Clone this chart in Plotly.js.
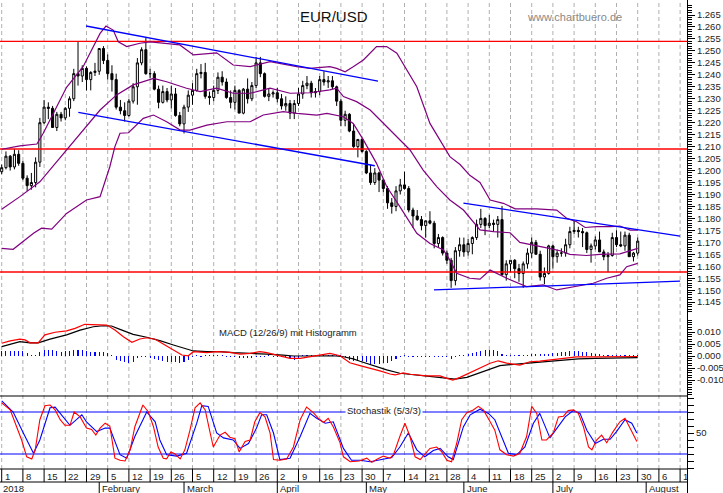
<!DOCTYPE html>
<html><head><meta charset="utf-8">
<script src="https://cdn.plot.ly/plotly-3.0.1.min.js"></script>
<style>html,body{margin:0;padding:0;background:#fff}#chart{width:723px;height:493px}</style>
</head><body><div id="chart"></div>
<script>
// ---------- DATA ----------
// trading days from Mon 1 Jan 2018 (index 0) to Mon 30 Jul 2018 (index 150)
const openP = [1.1995,1.2012,1.2060,1.2015,1.2068, 1.2030,1.1968,1.1937,1.1950,1.2035, 1.2200,1.2265,1.2260,1.2180,1.2235, 1.2220,1.2260,1.2300,1.2405,1.2395,
1.2427,1.2380,1.2410,1.2415,1.2510, 1.2460,1.2405,1.2380,1.2265,1.2250, 1.2230,1.2290,1.2350,1.2450,1.2505, 1.2405,1.2405,1.2340,1.2285,1.2330,
1.2295,1.2320,1.2230,1.2195,1.2265, 1.2315,1.2335,1.2405,1.2410,1.2310, 1.2305,1.2335,1.2390,1.2370,1.2305, 1.2285,1.2335,1.2240,1.2340,1.2300,
1.2355,1.2450,1.2405,1.2310,1.2320, 1.2325,1.2300,1.2270,1.2280,1.2240, 1.2280,1.2320,1.2355,1.2365,1.2325, 1.2330,1.2380,1.2370,1.2375,1.2350,
1.2290,1.2210,1.2235,1.2165,1.2100, 1.2130,1.2080,1.1990,1.1950,1.1990, 1.1960,1.1925,1.1865,1.1850,1.1915, 1.1940,1.1925,1.1835,1.1810,1.1795,
1.1770,1.1790,1.1780,1.1695,1.1720, 1.1655,1.1625,1.1540,1.1665,1.1690, 1.1660,1.1695,1.1720,1.1775,1.1800, 1.1770,1.1780,1.1775,1.1795,1.1565,
1.1610,1.1625,1.1590,1.1570,1.1610, 1.1655,1.1700,1.1650,1.1555,1.1570, 1.1685,1.1640,1.1655,1.1655,1.1690, 1.1745,1.1750,1.1745,1.1740,1.1670,
1.1685,1.1710,1.1660,1.1640,1.1645, 1.1720,1.1690,1.1685,1.1730,1.1640, 1.1655];
const highP = [1.2025,1.2080,1.2065,1.2090,1.2085, 1.2040,1.1980,1.1990,1.2055,1.2220, 1.2295,1.2285,1.2270,1.2245,1.2245, 1.2265,1.2310,1.2425,1.2537,1.2440,
1.2435,1.2415,1.2450,1.2510,1.2520, 1.2485,1.2440,1.2405,1.2295,1.2285, 1.2300,1.2365,1.2470,1.2515,1.2555, 1.2425,1.2415,1.2355,1.2355,1.2345,
1.2355,1.2345,1.2245,1.2275,1.2335, 1.2365,1.2425,1.2445,1.2450,1.2330, 1.2355,1.2410,1.2415,1.2385,1.2335, 1.2355,1.2340,1.2345,1.2385,1.2370,
1.2475,1.2475,1.2410,1.2345,1.2335, 1.2345,1.2320,1.2310,1.2295,1.2295, 1.2345,1.2375,1.2395,1.2375,1.2345, 1.2395,1.2415,1.2395,1.2395,1.2355,
1.2300,1.2250,1.2240,1.2195,1.2130, 1.2135,1.2085,1.2025,1.2010,1.1995, 1.1965,1.1935,1.1885,1.1935,1.1965, 1.1995,1.1935,1.1845,1.1835,1.1810,
1.1790,1.1830,1.1790,1.1735,1.1725, 1.1665,1.1635,1.1680,1.1720,1.1720, 1.1715,1.1725,1.1795,1.1840,1.1805, 1.1815,1.1795,1.1810,1.1852,1.1625,
1.1625,1.1630,1.1610,1.1620,1.1675, 1.1720,1.1710,1.1665,1.1595,1.1690, 1.1690,1.1670,1.1675,1.1715,1.1765, 1.1790,1.1765,1.1760,1.1745,1.1695,
1.1725,1.1745,1.1670,1.1660,1.1740, 1.1750,1.1745,1.1745,1.1740,1.1660, 1.1720];
const lowP = [1.1985,1.2005,1.2000,1.2005,1.2020, 1.1960,1.1915,1.1920,1.1930,1.2015, 1.2195,1.2215,1.2180,1.2165,1.2205, 1.2210,1.2225,1.2290,1.2355,1.2370,
1.2335,1.2335,1.2395,1.2400,1.2445, 1.2380,1.2330,1.2255,1.2235,1.2205, 1.2225,1.2280,1.2275,1.2440,1.2400, 1.2385,1.2335,1.2260,1.2280,1.2285,
1.2260,1.2225,1.2185,1.2155,1.2245, 1.2275,1.2330,1.2385,1.2300,1.2275, 1.2290,1.2320,1.2355,1.2300,1.2260, 1.2255,1.2240,1.2235,1.2280,1.2290,
1.2345,1.2390,1.2305,1.2290,1.2305, 1.2285,1.2255,1.2250,1.2215,1.2215, 1.2270,1.2300,1.2340,1.2305,1.2305, 1.2315,1.2355,1.2345,1.2340,1.2270,
1.2185,1.2185,1.2160,1.2095,1.2055, 1.2075,1.1985,1.1940,1.1940,1.1910, 1.1910,1.1840,1.1820,1.1830,1.1900, 1.1920,1.1825,1.1760,1.1790,1.1750,
1.1720,1.1775,1.1675,1.1680,1.1645, 1.1610,1.1510,1.1520,1.1640,1.1640, 1.1645,1.1650,1.1710,1.1760,1.1730, 1.1760,1.1745,1.1720,1.1560,1.1540,
1.1575,1.1550,1.1535,1.1510,1.1590, 1.1635,1.1650,1.1540,1.1525,1.1565, 1.1590,1.1615,1.1640,1.1640,1.1675, 1.1735,1.1720,1.1680,1.1655,1.1615,
1.1670,1.1660,1.1625,1.1575,1.1640, 1.1680,1.1680,1.1665,1.1640,1.1620, 1.1645];
const closeP = [1.2012,1.2060,1.2015,1.2068,1.2030, 1.1968,1.1937,1.1950,1.2035,1.2200, 1.2265,1.2260,1.2180,1.2235,1.2220, 1.2260,1.2300,1.2405,1.2395,1.2427,
1.2380,1.2410,1.2415,1.2510,1.2460, 1.2405,1.2380,1.2265,1.2250,1.2230, 1.2290,1.2350,1.2450,1.2505,1.2405, 1.2405,1.2340,1.2285,1.2330,1.2295,
1.2320,1.2230,1.2195,1.2265,1.2315, 1.2335,1.2405,1.2410,1.2310,1.2305, 1.2335,1.2390,1.2370,1.2305,1.2285, 1.2335,1.2240,1.2340,1.2300,1.2355,
1.2450,1.2405,1.2310,1.2320,1.2325, 1.2300,1.2270,1.2280,1.2240,1.2280, 1.2320,1.2355,1.2365,1.2325,1.2330, 1.2380,1.2370,1.2375,1.2350,1.2290,
1.2210,1.2235,1.2165,1.2100,1.2130, 1.2080,1.1990,1.1950,1.1990,1.1960, 1.1925,1.1865,1.1850,1.1915,1.1940, 1.1925,1.1835,1.1810,1.1795,1.1770,
1.1790,1.1780,1.1695,1.1720,1.1655, 1.1625,1.1540,1.1665,1.1690,1.1660, 1.1695,1.1720,1.1775,1.1800,1.1770, 1.1780,1.1775,1.1795,1.1565,1.1610,
1.1625,1.1590,1.1570,1.1610,1.1655, 1.1700,1.1650,1.1555,1.1570,1.1685, 1.1640,1.1655,1.1655,1.1690,1.1745, 1.1750,1.1745,1.1740,1.1670,1.1685,
1.1710,1.1660,1.1640,1.1645,1.1720, 1.1690,1.1685,1.1730,1.1640,1.1655, 1.1705];

// Bollinger bands, read as [trading-day index, price]
const bbUpper = [[0,1.2089],[4.3,1.2103],[8.3,1.2111],[9.8,1.2156],[15.3,1.2348],[19.2,1.2434],[23.2,1.2573],[24.6,1.2604],[26.3,1.2587],[27.5,1.2538],[29.5,1.2518],[32.6,1.2532],[35,1.2538],[42,1.2525],[45.2,1.2483],[50.7,1.2492],[54.6,1.2441],[58.6,1.2434],[63.3,1.2455],[69.6,1.2434],[72.7,1.2427],[77.4,1.2434],[79,1.2427],[81,1.2413],[82.9,1.2434],[85.3,1.2462],[88.4,1.2518],[90.8,1.2518],[93.2,1.2490],[95.5,1.2420],[97.9,1.2350],[101,1.2197],[104.2,1.2100],[105.7,1.2058],[108.1,1.2025],[110.4,1.1980],[112.8,1.1950],[115.2,1.1877],[118.3,1.1863],[121.1,1.1840],[126.2,1.1840],[130.9,1.1835],[133.3,1.1800],[135.6,1.1786],[137.6,1.1762],[140.3,1.1766],[143.5,1.1766],[145.8,1.1768],[148.2,1.1751],[150,1.1751]];
const bbMiddle = [[0,1.1838],[4.3,1.1891],[9,1.1953],[15.3,1.2086],[19.2,1.2170],[23.2,1.2253],[27.1,1.2316],[31,1.2358],[35.8,1.2385],[38.9,1.2371],[43.6,1.2344],[46.8,1.2330],[50.7,1.2344],[54.6,1.2323],[58.6,1.2323],[63.3,1.2344],[68,1.2323],[72.7,1.2325],[77.4,1.2337],[79,1.2344],[80.6,1.2309],[83.7,1.2288],[86.9,1.2253],[90,1.2197],[93.2,1.2141],[96.3,1.2086],[99.4,1.2002],[102.6,1.1933],[105.7,1.1877],[108.9,1.1835],[112.8,1.1752],[116,1.1745],[119.9,1.1740],[122.2,1.1700],[127.7,1.1680],[131.7,1.1665],[134,1.1650],[137.9,1.1645],[141.1,1.1650],[145.8,1.1652],[150,1.1675]];
const bbLower = [[0,1.1675],[2.7,1.1671],[7.5,1.1738],[9.4,1.1759],[11.8,1.1755],[15.3,1.1821],[20,1.1877],[23.2,1.1891],[25.5,1.2016],[26.7,1.2100],[27.9,1.2156],[29.9,1.2158],[33.4,1.2218],[35.8,1.2232],[38.9,1.2204],[42.1,1.2169],[44.4,1.2169],[48.4,1.2190],[53.1,1.2204],[58.6,1.2204],[61.7,1.2232],[66.4,1.2246],[69.6,1.2239],[74.3,1.2232],[76.7,1.2239],[79,1.2232],[80.6,1.2225],[82.9,1.2197],[85.3,1.2128],[88.4,1.2030],[90.8,1.1933],[93.9,1.1849],[97.9,1.1738],[101,1.1695],[104.2,1.1668],[105.7,1.1626],[107.3,1.1571],[110.4,1.1550],[112.8,1.1546],[115.2,1.1584],[119.1,1.1550],[123.8,1.1515],[127.7,1.1522],[130.9,1.1501],[135.6,1.1515],[139.5,1.1529],[142.7,1.1550],[145.8,1.1564],[147.4,1.1598],[150,1.1612]];

// horizontal support/resistance levels and trend lines
const levels = [1.2540, 1.2090, 1.1576];
const trendLines = [
  {x:[19.9, 88.75], y:[1.2604, 1.2374]},
  {x:[18.07, 88.0], y:[1.2243, 1.2020]},
  {x:[108.9, 160], y:[1.1864, 1.1726]},
  {x:[101.95, 160], y:[1.1501, 1.1538]}
];

// MACD (red) and signal (black), [index, value]
const macdLine = [[0,0.0053],[2,0.0063],[4.3,0.0070],[5.5,0.0067],[6.7,0.0055],[8.6,0.0055],[10.2,0.0088],[12.6,0.0099],[15.3,0.0105],[17.3,0.0115],[19.6,0.0132],[22,0.0132],[23.6,0.0132],[24.8,0.0129],[26.7,0.0108],[28.7,0.0080],[30.7,0.0057],[32.6,0.0071],[34.2,0.0076],[36.2,0.0070],[38.5,0.0046],[40.5,0.0025],[42.5,0.0004],[44,0.0001],[45.2,0.0018],[48.4,0.0014],[50.7,0.0018],[53.8,0.0015],[56.2,0.0008],[58.6,0.0011],[60.9,0.0018],[62.5,0.0014],[65.6,0.0001],[68,-0.0010],[70.4,-0.0010],[72.7,-0.0003],[75.1,0.0004],[77.4,0.0011],[79.8,0.0001],[82.1,-0.0028],[84.5,-0.0040],[86.9,-0.0050],[89.2,-0.0062],[91.6,-0.0075],[92.8,-0.0079],[94.7,-0.0070],[96.3,-0.0076],[100.2,-0.0083],[103.4,-0.0083],[105,-0.0093],[106.4,-0.0100],[108.1,-0.0089],[110.4,-0.0070],[112.8,-0.0047],[115.2,-0.0030],[117.1,-0.0020],[119.1,-0.0030],[122.2,-0.0038],[124.6,-0.0024],[126.9,-0.0021],[130.1,-0.0015],[133,-0.0008],[135.6,-0.0004],[140,-0.0004],[145,-0.0003],[150,-0.0002]];
const signalLine = [[0,0.0039],[2,0.0049],[4.3,0.0060],[6.7,0.0055],[8.6,0.0055],[11.4,0.0070],[15.3,0.0088],[18.5,0.0108],[21.6,0.0122],[24,0.0126],[25.9,0.0125],[27.9,0.0111],[31,0.0090],[34.2,0.0078],[37.3,0.0064],[40.5,0.0046],[43.6,0.0028],[45.2,0.0021],[48.4,0.0018],[51.5,0.0018],[54.6,0.0014],[58.6,0.0012],[62.5,0.0008],[66.4,0.0004],[68.8,0],[71.9,0],[75.1,0.0001],[78.2,0.0001],[80.6,-0.0003],[82.9,-0.0012],[84.5,-0.0022],[87.6,-0.0040],[90.8,-0.0058],[93.9,-0.0072],[98.7,-0.0082],[103.4,-0.0089],[106.9,-0.0096],[109.7,-0.0089],[112.8,-0.0070],[115.9,-0.0050],[117.5,-0.0040],[120.7,-0.0035],[123.8,-0.0030],[126.9,-0.0026],[130.1,-0.0022],[133.3,-0.0017],[136,-0.0012],[140,-0.0010],[145,-0.0009],[150,-0.0007]];
// histogram, one value per trading day
const macdHist = [0.0021,0.0021,0.0021,0.0021,0.0021,0.0019,0.0013,0.0004,0.0003,0.0017, 0.0025,0.0025,0.0025,0.0021,0.0017,0.0021,0.0021,0.0025,0.0025,0.0025,
0.0021,0.0017,0.0017,0.0017,0.0017,0.0013,0.0003,-0.0017,-0.0021,-0.0025, -0.0029,-0.0025,-0.0008,-0.0004,-0.0004,-0.0008,-0.0013,-0.0017,-0.0021,-0.0025,
-0.0025,-0.0025,-0.0029,-0.0025,-0.0017,-0.0004,0.0003,-0.0003,0.0003,0.0003, 0.0003,0.0003,0.0003,-0.0006,-0.0006,-0.0003,-0.0008,-0.0008,-0.0008,-0.0008,
-0.0004,-0.0004,-0.0004,0.0003,-0.0004,-0.0004,-0.0004,-0.0004,-0.0008,-0.0017, -0.0008,0.0003,0.0003,0.0004,0.0004,0.0004,0.0004,0.0004,0.0004,0.0003,
0.0003,-0.0006,-0.0017,-0.0021,-0.0021,-0.0021,-0.0025,-0.0033,-0.0033,-0.0033, -0.0029,-0.0029,-0.0021,-0.0013,-0.0004,0.0003,-0.0003,-0.0004,-0.0003,-0.0003,
-0.0004,-0.0004,-0.0004,-0.0004,-0.0004,-0.0004,-0.0013,-0.0004,0.0003,0.0004, 0.0008,0.0013,0.0017,0.0021,0.0025,0.0025,0.0025,0.0021,0.0008,0.0004,
0.0004,0.0003,0.0003,0.0003,0.0006,0.0008,0.0008,0.0008,0.0008,0.0010, 0.0013,0.0013,0.0015,0.0017,0.0019,0.0021,0.0021,0.0017,0.0017,0.0013,
0.0008,0.0008,0.0006,0.0006,0.0004,0.0006,0.0004,0.0006,0.0004,0.0004, 0.0003];

// Stochastik %K (red) and %D (blue), [index, value]
const stochK = [[0,93],[2,83],[4.7,40],[5.9,16],[7.1,13],[7.9,26],[9,69],[10.2,89],[11.4,90],[12.6,83],[13.8,69],[14.9,61],[16.1,61],[17.1,80],[18.5,73],[20,57],[21.2,55],[22.2,47],[23.2,57],[24.4,64],[25.5,60],[26.7,14],[27.9,11],[29.1,10],[30.3,26],[31.4,59],[33.3,90],[34.6,80],[35.8,59],[36.9,30],[38.1,14],[38.9,13],[39.9,23],[40.9,20],[42.1,13],[43.2,26],[44.4,54],[45.6,86],[46.8,93],[48,83],[49.1,52],[49.9,30],[51.5,47],[52.7,51],[53.8,44],[55,42],[56,23],[57.4,38],[58.6,40],[59.7,66],[60.9,79],[62.1,73],[63.3,50],[64.1,12],[65.6,11],[67.2,13],[68.8,30],[70.4,69],[71.9,87],[73.5,79],[74.7,71],[75.9,65],[77,71],[78.2,59],[79.8,36],[80.6,16],[82.2,9],[84.3,10],[86.1,14],[87.3,8],[88.4,12],[90,17],[91.6,14],[92.4,19],[93.9,45],[95.1,64],[96.3,45],[97.5,16],[98.7,12],[99.8,19],[101,28],[102.6,30],[103.8,23],[105,11],[106.1,9],[107.3,35],[108.5,69],[109.7,79],[111.2,83],[112.4,88],[113.6,83],[115.2,66],[116.3,54],[117.5,26],[119.1,19],[120.7,17],[122.2,21],[123.8,45],[125,88],[126.2,78],[127.4,40],[128.5,40],[130.1,50],[131.3,73],[132.5,74],[133.6,82],[134.8,83],[136,78],[137.2,59],[138.4,30],[139.2,26],[140.3,40],[141.5,47],[142.7,36],[144.2,52],[145.8,66],[147,71],[148.6,52],[149.8,38]];
const stochD = [[0,96],[2.7,80],[5.1,50],[7.5,21],[9,40],[11.4,86],[12.6,87],[14.9,69],[16.1,61],[18.9,76],[20,66],[22.4,52],[24.4,57],[25.5,57],[27.9,19],[29.5,14],[31.4,45],[34.2,80],[36.2,66],[37.3,40],[38.9,19],[41.3,17],[43.6,21],[46,64],[47.2,89],[48.7,88],[50.7,50],[52.3,43],[54.6,40],[56.2,28],[58.2,35],[60.1,57],[61.3,76],[62.5,76],[64.1,50],[65.6,12],[68,14],[70.4,45],[72.7,78],[74.3,71],[76.3,64],[78.2,66],[80.6,28],[82.5,11],[84.5,11],[86.9,9],[89.2,12],[92,15],[93.9,30],[95.9,50],[97.9,26],[99.8,16],[101.8,25],[103.4,28],[105.3,16],[106.5,12],[108.9,59],[110.5,76],[112.8,84],[114.8,78],[116.3,69],[117.5,50],[119.5,21],[121.5,19],[123.4,30],[125.4,64],[126.9,78],[129.3,43],[131.3,59],[132.9,73],[134.8,82],[136.4,78],[138,54],[140,35],[141.9,41],[143.5,41],[145,52],[147,69],[148.6,64],[149.8,50]];
const stochLevels = [80, 20];

const monthNames = ['2018','February','March','April','May','June','July','August'];
const titleText = 'EUR/USD';
const sourceText = 'www.chartbuero.de';
const macdLabel = 'MACD (12/26/9) mit Histogramm';
const stochLabel = 'Stochastik (5/3/3)';

// ---------- LAYOUT HELPERS ----------
const W = 723, H = 493;
const PLOT_R = 687;               // right edge of plotting area (px)
const X0 = 1.7, DX = 4.24;         // px of index 0, px per trading day
const XMIN = -X0 / DX, XMAX = (PLOT_R - X0) / DX;
const py = p => 1 - p / H;
const START = Date.UTC(2018, 0, 1);
const tradingDate = i => new Date(START + (Math.floor(i / 5) * 7 + (i % 5)) * 86400000);
const idx = closeP.map((_, i) => i);

const SANS = '"Liberation Sans", Arial, Helvetica, sans-serif';
const AXFONT = {family: SANS, size: 9.5, color: '#222'};

const col = (arr, k) => arr.map(p => p[k]);

const traces = [];
traces.push({type:'candlestick', x: idx, open: openP, high: highP, low: lowP, close: closeP,
  increasing:{line:{color:'#000', width:1}, fillcolor:'#ffffff'},
  decreasing:{line:{color:'#000', width:1}, fillcolor:'#000000'},
  whiskerwidth:0, hoverinfo:'skip', xaxis:'x', yaxis:'y', showlegend:false});
levels.forEach(v => traces.push({type:'scatter', mode:'lines', x:[XMIN, XMAX], y:[v, v],
  line:{color:'#ff0000', width:1.3}, xaxis:'x', yaxis:'y', hoverinfo:'skip'}));
[bbUpper, bbMiddle, bbLower].forEach(b => traces.push({type:'scatter', mode:'lines',
  x: col(b,0), y: col(b,1), line:{color:'#800080', width:1.2}, xaxis:'x', yaxis:'y', hoverinfo:'skip'}));
trendLines.forEach(t => traces.push({type:'scatter', mode:'lines', x:t.x, y:t.y,
  line:{color:'#0000ff', width:1.3}, xaxis:'x', yaxis:'y', hoverinfo:'skip'}));

traces.push({type:'bar', x: idx, y: macdHist, width: 0.26, marker:{color:'#0000ff', line:{width:0}},
  xaxis:'x', yaxis:'y2', hoverinfo:'skip'});
traces.push({type:'scatter', mode:'lines', x: col(signalLine,0), y: col(signalLine,1),
  line:{color:'#000000', width:1.2}, xaxis:'x', yaxis:'y2', hoverinfo:'skip'});
traces.push({type:'scatter', mode:'lines', x: col(macdLine,0), y: col(macdLine,1),
  line:{color:'#ff0000', width:1.2}, xaxis:'x', yaxis:'y2', hoverinfo:'skip'});

stochLevels.forEach(v => traces.push({type:'scatter', mode:'lines', x:[XMIN, XMAX], y:[v, v],
  line:{color:'#0000ff', width:1.2}, xaxis:'x', yaxis:'y3', hoverinfo:'skip'}));
traces.push({type:'scatter', mode:'lines', x: col(stochD,0), y: col(stochD,1),
  line:{color:'#0000ff', width:1.1}, xaxis:'x', yaxis:'y3', hoverinfo:'skip'});
traces.push({type:'scatter', mode:'lines', x: col(stochK,0), y: col(stochK,1),
  line:{color:'#ff0000', width:1.1}, xaxis:'x', yaxis:'y3', hoverinfo:'skip'});

// ---------- SHAPES & ANNOTATIONS ----------
const shapes = [], annotations = [];
const mondays = [];
for (let i = 0; i * DX + X0 < PLOT_R; i += 5) mondays.push(i);
mondays.forEach(i => {
  shapes.push({type:'line', xref:'x', yref:'paper', x0:i, x1:i, y0:py(469), y1:1,
    line:{color:'#b0b0b0', width:1, dash:'4px,3px'}, layer:'below'});
  shapes.push({type:'line', xref:'x', yref:'paper', x0:i, x1:i, y0:py(482), y1:py(469),
    line:{color:'#000', width:1}});
  let txt = String(tradingDate(i).getUTCDate());
  const leftPx = X0 + i * DX + 3;
  if (leftPx + txt.length * 5 > PLOT_R) txt = txt.slice(0, Math.max(1, Math.floor((PLOT_R - leftPx) / 5)));
  annotations.push({xref:'x', yref:'paper', x:i, y:py(476), xanchor:'left', yanchor:'middle', xshift:1,
    text: txt, showarrow:false, font:AXFONT});
});
// month starts
const monthStarts = [0];
for (let i = 1; i * DX + X0 < PLOT_R; i++) {
  if (tradingDate(i).getUTCMonth() !== tradingDate(i - 1).getUTCMonth()) monthStarts.push(i);
}
monthStarts.forEach((i, k) => {
  if (k > 0) shapes.push({type:'line', xref:'x', yref:'paper', x0:i, x1:i, y0:0, y1:py(482),
    line:{color:'#000', width:1}});
  annotations.push({xref: k === 0 ? 'paper' : 'x', yref:'paper', x: k === 0 ? 1 / W : i,
    y: py(488), xanchor:'left', yanchor:'middle', xshift: k === 0 ? 0 : 1,
    text: monthNames[k], showarrow:false, font:AXFONT});
});
// panel separators and right axis line
[396, 469, 482].forEach(p => shapes.push({type:'line', xref:'paper', yref:'paper', x0:0, x1:PLOT_R / W,
  y0:py(p), y1:py(p), line:{color:'#000', width:1}}));
shapes.push({type:'line', xref:'paper', yref:'paper', x0:(PLOT_R + 0.5) / W, x1:(PLOT_R + 0.5) / W,
  y0:0, y1:1, line:{color:'#000', width:1}});

annotations.push({xref:'paper', yref:'paper', x:334 / W, y:py(17), xanchor:'center', yanchor:'middle',
  text:titleText, showarrow:false, font:{family:SANS, size:15, color:'#111'}});
annotations.push({xref:'paper', yref:'paper', x:574 / W, y:py(17), xanchor:'center', yanchor:'middle',
  text:sourceText, showarrow:false, font:{family:SANS, size:11, color:'#888'}});
annotations.push({xref:'paper', yref:'paper', x:217 / W, y:py(332), xanchor:'left', yanchor:'middle',
  text:macdLabel, showarrow:false, font:{family:SANS, size:9.5, color:'#222'}});
annotations.push({xref:'paper', yref:'paper', x:345 / W, y:py(410), xanchor:'left', yanchor:'middle',
  text:stochLabel, showarrow:false, bgcolor:'#ffffff', borderpad:1, font:{family:SANS, size:9.5, color:'#222'}});

// ticks
const priceTicks = [];
for (let k = 0; k <= 24; k++) priceTicks.push(+(1.145 + k * 0.005).toFixed(3));
const macdTicks = [-0.010, -0.005, 0, 0.005, 0.010];
const stochTicks = [0,10,20,30,40,50,60,70,80,90,100];

const yCommon = {anchor:'x', side:'right', showgrid:false, zeroline:false, showline:false,
  ticks:'outside', tickcolor:'#000', tickwidth:1, tickfont:AXFONT, fixedrange:true};

const layout = {
  width:W, height:H, margin:{l:0, r:0, t:0, b:0, pad:0},
  paper_bgcolor:'#ffffff', plot_bgcolor:'rgba(0,0,0,0)', showlegend:false,
  bargap:0,
  xaxis:{domain:[0, PLOT_R / W], range:[XMIN, XMAX], showgrid:false, zeroline:false, showline:false,
    showticklabels:false, ticks:'', rangeslider:{visible:false}, fixedrange:true},
  yaxis:Object.assign({}, yCommon, {domain:[py(313), py(4)],
    range:[1.265 - (313 - 15) / 2393, 1.265 + 11 / 2393],
    tickmode:'array', tickvals:priceTicks, ticktext:priceTicks.map(v => v.toFixed(3)), ticklen:7,
    minor:{ticks:'outside', tickmode:'linear', tick0:0, dtick:0.001, ticklen:4, tickcolor:'#000', showgrid:false}}),
  yaxis2:Object.assign({}, yCommon, {domain:[py(396), py(318)],
    range:[-40 / 2400, 38 / 2400],
    tickmode:'array', tickvals:macdTicks, ticktext:macdTicks.map(v => v.toFixed(3)), ticklen:7,
    minor:{ticks:'outside', tickmode:'linear', tick0:0, dtick:0.001, ticklen:4, tickcolor:'#000', showgrid:false}}),
  yaxis3:Object.assign({}, yCommon, {domain:[py(469), py(396)],
    range:[-1 / 0.7, 72 / 0.7],
    tickmode:'array', tickvals:stochTicks, ticktext:stochTicks.map(v => v === 50 ? '50' : ''), ticklen:6}),
  shapes, annotations
};

Plotly.newPlot('chart', traces, layout, {staticPlot:true, displayModeBar:false});
</script>
</body></html>
